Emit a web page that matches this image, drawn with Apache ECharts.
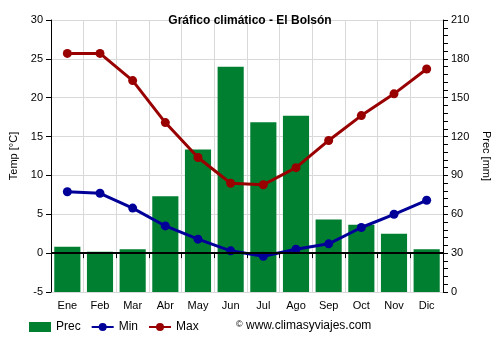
<!DOCTYPE html>
<html>
<head>
<meta charset="utf-8">
<script src="https://cdn.jsdelivr.net/npm/echarts@6/dist/echarts.min.js"></script>
<style>html,body{margin:0;padding:0;background:#fff}#c{width:500px;height:350px}</style>
</head>
<body>
<div id="c"></div>
<script>
// Monthly climate data for El Bolsón
var months = ['Ene','Feb','Mar','Abr','May','Jun','Jul','Ago','Sep','Oct','Nov','Dic'];
var prec = [35, 31, 33, 74, 110, 174, 131, 136, 56, 52, 45, 33];
var tMin = [7.9, 7.7, 5.8, 3.5, 1.8, 0.3, -0.4, 0.5, 1.2, 3.3, 5.0, 6.8];
var tMax = [25.7, 25.7, 22.2, 16.8, 12.3, 9.0, 8.8, 11.0, 14.5, 17.7, 20.5, 23.7];

var font = 'Arial, "Liberation Sans", sans-serif';
var chart = echarts.init(document.getElementById('c'), null, {renderer: 'canvas'});
chart.setOption({
  animation: false,
  textStyle: {fontFamily: font},
  title: {
    text: 'Gráfico climático - El Bolsón',
    left: 'center', top: 10,
    textStyle: {fontSize: 12, fontWeight: 'bold', color: '#000', fontFamily: font}
  },
  legend: {
    bottom: 12, left: 24, itemGap: 10, itemWidth: 22, itemHeight: 10,
    textStyle: {fontSize: 12, color: '#000', fontFamily: font},
    data: [
      {name: 'Prec', icon: 'rect'},
      {name: 'Min'},
      {name: 'Max'}
    ]
  },
  graphic: [{
    type: 'text', left: 236, top: 320,
    style: {
      text: '{c|©} www.climasyviajes.com',
      rich: {c: {fontSize: 9, verticalAlign: 'top', fill: '#000', fontFamily: font}},
      fontSize: 12, fill: '#000', fontFamily: font
    }
  }],
  grid: {left: 49, right: 55, top: 20, bottom: 58},
  xAxis: {
    type: 'category', data: months, boundaryGap: true,
    axisLine: {lineStyle: {color: '#000'}},
    axisTick: {show: true, alignWithLabel: false, length: 5, lineStyle: {color: '#000'}},
    axisLabel: {color: '#000', fontSize: 11, margin: 8},
    splitLine: {show: true, lineStyle: {color: '#d9d9d9'}}
  },
  yAxis: [{
    type: 'value', min: -5, max: 30, interval: 5,
    name: 'Temp [°C]', nameLocation: 'middle', nameGap: 32, nameRotate: 90,
    nameTextStyle: {fontSize: 11, color: '#000'},
    axisLine: {show: true, lineStyle: {color: '#000'}},
    axisTick: {show: true, length: 5, lineStyle: {color: '#000'}},
    axisLabel: {color: '#000', fontSize: 11},
    splitLine: {show: true, lineStyle: {color: '#d9d9d9'}}
  }, {
    type: 'value', min: 0, max: 210, interval: 30,
    name: 'Prec [mm]', nameLocation: 'middle', nameGap: 38, nameRotate: -90,
    nameTextStyle: {fontSize: 11, color: '#000'},
    axisLine: {show: true, lineStyle: {color: '#000'}},
    axisTick: {show: true, length: 5, lineStyle: {color: '#000'}},
    minorTick: {show: true, splitNumber: 5, length: 5, lineStyle: {color: '#000'}},
    axisLabel: {color: '#000', fontSize: 11},
    splitLine: {show: false}
  }],
  series: [{
    // zero reference line, drawn beneath the bars
    name: 'zero', type: 'line', data: [], z: 1, silent: true,
    markLine: {
      silent: true, symbol: 'none', label: {show: false},
      lineStyle: {color: '#000', width: 2, type: 'solid'},
      data: [{yAxis: 0}]
    }
  }, {
    name: 'Prec', type: 'bar', yAxisIndex: 1, data: prec, z: 2,
    barCategoryGap: '20%',
    itemStyle: {color: '#007f30'}
  }, {
    name: 'Min', type: 'line', data: tMin, z: 3,
    symbol: 'circle', symbolSize: 9,
    lineStyle: {color: '#000099', width: 3},
    itemStyle: {color: '#000099'}
  }, {
    name: 'Max', type: 'line', data: tMax, z: 3,
    symbol: 'circle', symbolSize: 9,
    lineStyle: {color: '#990000', width: 3},
    itemStyle: {color: '#990000'}
  }]
});
</script>
</body>
</html>
